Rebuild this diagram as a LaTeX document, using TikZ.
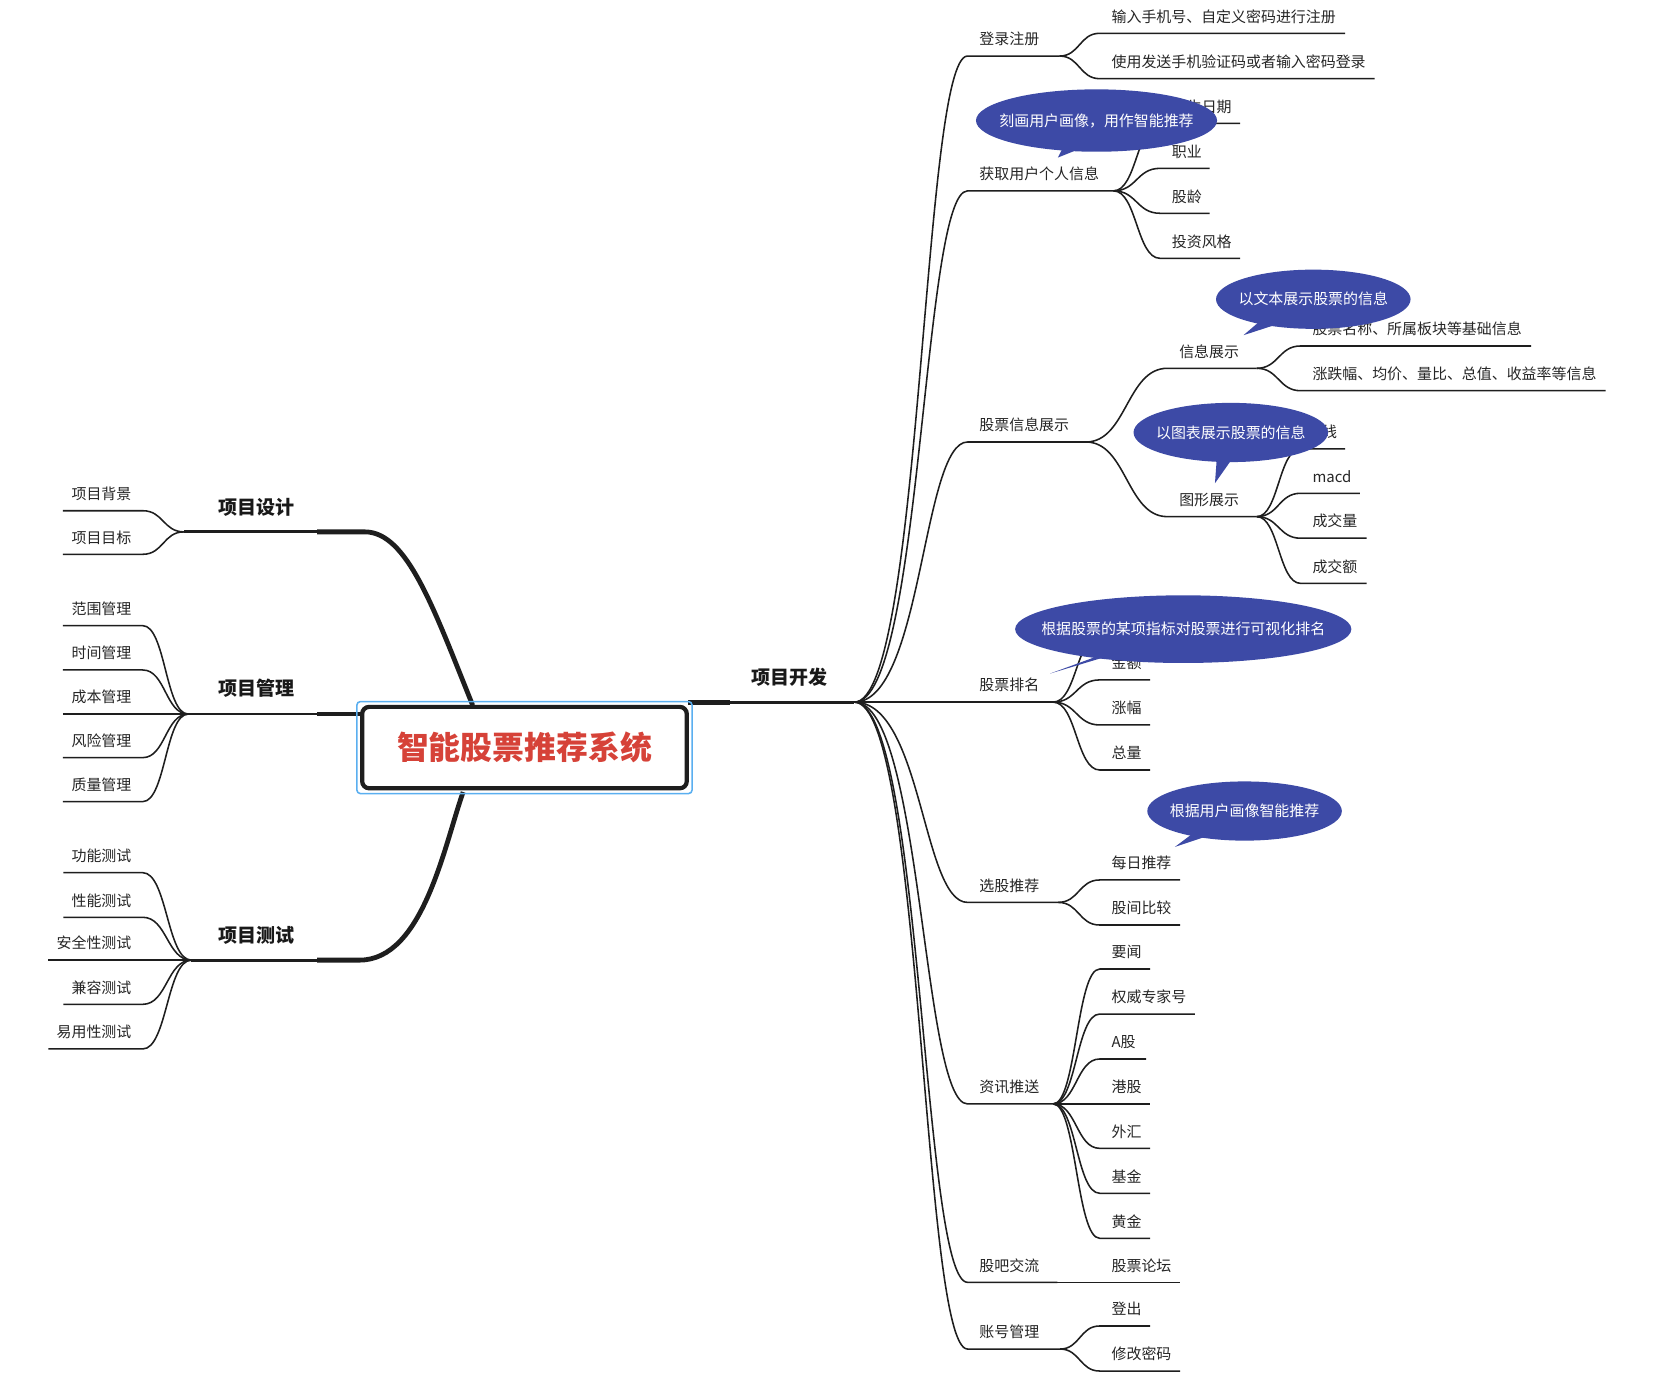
\documentclass[tikz,border=0pt]{standalone}
\usepackage{fontspec}
\setmainfont{Noto Sans CJK SC}
\usetikzlibrary{calc}
\definecolor{bubble}{RGB}{61,74,166}
\definecolor{titlered}{RGB}{214,66,56}
\definecolor{selblue}{RGB}{90,175,240}
\definecolor{ink}{RGB}{30,30,30}
\tikzset{
  txt/.style={inner sep=0pt, font=\fontsize{10.6pt}{12pt}\selectfont, text=black!85},
  mainlabel/.style={inner sep=0pt, font=\fontsize{13.5pt}{16pt}\selectfont\bfseries, text=black!90},
  leafline/.style={line width=1.1pt, draw=ink},
  midline/.style={line width=2pt, draw=ink},
  thickline/.style={line width=3.4pt, draw=ink},
  bubbletext/.style={inner sep=0pt, text=white, font=\fontsize{10.6pt}{12pt}\selectfont},
}
% right-hand branch: name, parent coordinate, x start, x end, y, control fraction, text
\newcommand\RLeaf[7]{%
  \coordinate (#1s) at (#3,#5);
  \coordinate (#1e) at (#4,#5);
  \coordinate (#1m) at ($(#2)!#6!(#1s)$);
  \draw[leafline] (#2) .. controls (#1m |- #2) and (#1m |- #1s) .. (#1s) -- (#1e);
  \node[txt, anchor=west] (#1) at ($(#1s)+(11,-16)$) {#7};
}
% left-hand leaf: name, hub, x start, y, text
\newcommand\LLeaf[5]{%
  \coordinate (#1s) at (#3,#4);
  \coordinate (#1e) at (135,#4);
  \coordinate (#1m) at ($(#1e)!0.5!(#2)$);
  \draw[leafline] (#1s) -- (#1e) .. controls (#1m |- #1e) and (#1m |- #2) .. (#2);
  \node[txt, anchor=east] (#1) at ($(#1e)+(-10.5,-16)$) {#5};
}
\begin{document}
\begin{tikzpicture}[x=0.75pt,y=-0.75pt]
\fill[white] (0,0) rectangle (1568,1313);
\path[use as bounding box] (0,0) rectangle (1568,1313);

% ---------------- left side ----------------
\coordinate (hubD) at (174,503);
\coordinate (hubM) at (178,675.3);
\coordinate (hubT) at (181,908);
\coordinate (dA) at (300,503);
\coordinate (dB) at (345,503);
\coordinate (dC) at (447,667);
\coordinate (mA) at (300,675.3);
\coordinate (mB) at (342,675.3);
\coordinate (tA) at (300,908);
\coordinate (tB) at (340,908);
\coordinate (tC) at (438,749);

\draw[midline] (hubD) -- (dA);
\draw[thickline] (dA) -- (dB) .. controls (385,503) and (410,575) .. (dC);
\draw[midline] (hubM) -- (mA);
\draw[thickline] (mA) -- (mB);
\draw[midline] (hubT) -- (tA);
\draw[thickline] (tA) -- (tB) .. controls (400,908) and (420,800) .. (tC);

\node[mainlabel] (design) at (243,480) {项目设计};
\node[mainlabel] (manage) at (243,651) {项目管理};
\node[mainlabel] (test) at (243,885) {项目测试};

\LLeaf{dl1}{hubD}{59.5}{483}{项目背景}
\LLeaf{dl2}{hubD}{59.5}{524.2}{项目目标}

\LLeaf{ml1}{hubM}{59.5}{591.7}{范围管理}
\LLeaf{ml2}{hubM}{59.5}{633.6}{时间管理}
\LLeaf{ml3}{hubM}{59.5}{675.3}{成本管理}
\LLeaf{ml4}{hubM}{59.5}{716.5}{风险管理}
\LLeaf{ml5}{hubM}{59.5}{758.1}{质量管理}

\LLeaf{tl1}{hubT}{59.9}{825.3}{功能测试}
\LLeaf{tl2}{hubT}{59.9}{867.5}{性能测试}
\LLeaf{tl3}{hubT}{45.7}{908}{安全性测试}
\LLeaf{tl4}{hubT}{59.9}{949.8}{兼容测试}
\LLeaf{tl5}{hubT}{45.7}{992}{易用性测试}

% ---------------- right side ----------------
\coordinate (hubP) at (808,664);
\coordinate (pA) at (651,664);
\coordinate (pB) at (690,664);
\draw[thickline] (pA) -- (pB);
\draw[midline] (pB) -- (hubP);
\node[mainlabel] (dev) at (747,640) {项目开发};

\RLeaf{a1}{hubP}{915}{1002}{53}{0.6}{登录注册}
\RLeaf{a2}{hubP}{915}{1053}{180.5}{0.6}{获取用户个人信息}
\RLeaf{a3}{hubP}{915}{1027}{418}{0.6}{股票信息展示}
\RLeaf{a4}{hubP}{915}{996}{664}{0.6}{股票排名}
\RLeaf{a5}{hubP}{915}{1000.7}{853.4}{0.6}{选股推荐}
\RLeaf{a6}{hubP}{915}{996}{1044}{0.6}{资讯推送}
\RLeaf{a7}{hubP}{915}{1000}{1212.7}{0.6}{股吧交流}
\RLeaf{a8}{hubP}{915}{1002.5}{1275.8}{0.6}{账号管理}

\RLeaf{a1x1}{a1e}{1040}{1272}{31.5}{0.5}{输入手机号、自定义密码进行注册}
\RLeaf{a1x2}{a1e}{1040}{1300}{74.4}{0.5}{使用发送手机验证码或者输入密码登录}

\RLeaf{a2x1}{a2e}{1097}{1172.7}{116.6}{0.5}{出生日期}
\RLeaf{a2x2}{a2e}{1097}{1144}{159.2}{0.5}{职业}
\RLeaf{a2x3}{a2e}{1097}{1144}{201.7}{0.5}{股龄}
\RLeaf{a2x4}{a2e}{1097}{1172.7}{244.3}{0.5}{投资风格}

\RLeaf{a3x1}{a3e}{1104}{1188.5}{348.3}{0.5}{信息展示}
\RLeaf{a3x2}{a3e}{1104}{1188.5}{488.6}{0.5}{图形展示}
\RLeaf{a3x1y1}{a3x1e}{1230}{1448}{327.2}{0.5}{股票名称、所属板块等基础信息}
\RLeaf{a3x1y2}{a3x1e}{1230}{1518.5}{369.5}{0.5}{涨跌幅、均价、量比、总值、收益率等信息}
\RLeaf{a3x2y1}{a3x2e}{1230}{1272}{424.6}{0.5}{K线}
\RLeaf{a3x2y2}{a3x2e}{1230}{1286}{466.5}{0.5}{macd}
\RLeaf{a3x2y3}{a3x2e}{1230}{1292.5}{509}{0.5}{成交量}
\RLeaf{a3x2y4}{a3x2e}{1230}{1292.5}{551.7}{0.5}{成交额}

\coordinate (a4x0s) at (1040,601);
\coordinate (a4x0e) at (1087.6,601);
\draw[leafline] (a4e) .. controls (1018,664) and (1018,601) .. (a4x0s) -- (a4x0e);
\RLeaf{a4x1}{a4e}{1040}{1087.6}{643}{0.5}{金额}
\RLeaf{a4x2}{a4e}{1040}{1087.6}{685.6}{0.5}{涨幅}
\RLeaf{a4x3}{a4e}{1040}{1087.6}{728.2}{0.5}{总量}

\RLeaf{a5x1}{a5e}{1040}{1116}{832.2}{0.5}{每日推荐}
\RLeaf{a5x2}{a5e}{1040}{1116}{874.8}{0.5}{股间比较}

\RLeaf{a6x1}{a6e}{1040}{1087.6}{916.4}{0.5}{要闻}
\RLeaf{a6x2}{a6e}{1040}{1130}{959}{0.5}{权威专家号}
\RLeaf{a6x3}{a6e}{1040}{1083.8}{1001.5}{0.5}{A股}
\RLeaf{a6x4}{a6e}{1040}{1087.6}{1044}{0.5}{港股}
\RLeaf{a6x5}{a6e}{1040}{1087.6}{1086}{0.5}{外汇}
\RLeaf{a6x6}{a6e}{1040}{1087.6}{1128.5}{0.5}{基金}
\RLeaf{a6x7}{a6e}{1040}{1087.6}{1171.1}{0.5}{黄金}

\RLeaf{a7x1}{a7e}{1040}{1116}{1212.7}{0.5}{股票论坛}

\RLeaf{a8x1}{a8e}{1040}{1087.6}{1254}{0.5}{登出}
\RLeaf{a8x2}{a8e}{1040}{1116}{1296.6}{0.5}{修改密码}

% ---------------- central topic ----------------
\node[draw=ink, fill=white, line width=3pt, rounded corners=5pt,
      minimum width=230.25pt, minimum height=57.75pt, inner sep=0pt,
      text=titlered, font=\fontsize{22.6pt}{26pt}\selectfont\bfseries] (root) at (496,707) {智能股票推荐系统};
\draw[selblue, line width=1.1pt, rounded corners=2.5pt]
  ($(root.south west)+(-3,3)$) rectangle ($(root.north east)+(3,-3)$);

% ---------------- callout bubbles ----------------
\coordinate (c1) at (1037,114);
\coordinate (c2) at (1242,283);
\coordinate (c3) at (1164,409);
\coordinate (c4) at (1119,595);
\coordinate (c5) at (1177,767);

\fill[bubble] (1000.5,149) -- (1006,138) -- (1028,138) -- cycle;
\fill[bubble] (c1) ellipse [x radius=114, y radius=29.5];
\node[bubbletext] (b1) at (c1) {刻画用户画像，用作智能推荐};

\fill[bubble] (1176,317) -- (1190,305) -- (1216,304) -- cycle;
\fill[bubble] (c2) ellipse [x radius=92, y radius=28];
\node[bubbletext] (b2) at (c2) {以文本展示股票的信息};

\fill[bubble] (1149,457) -- (1151,430) -- (1168,430) -- cycle;
\fill[bubble] (c3) ellipse [x radius=92, y radius=28];
\node[bubbletext] (b3) at (c3) {以图表展示股票的信息};

\fill[bubble] (993,637) -- (1045,618) -- (1066,615) -- cycle;
\fill[bubble] (c4) ellipse [x radius=159, y radius=32];
\node[bubbletext] (b4) at (c4) {根据股票的某项指标对股票进行可视化排名};

\fill[bubble] (1111,801) -- (1127,789) -- (1150,788) -- cycle;
\fill[bubble] (c5) ellipse [x radius=92, y radius=28];
\node[bubbletext] (b5) at (c5) {根据用户画像智能推荐};
\end{tikzpicture}
\end{document}
